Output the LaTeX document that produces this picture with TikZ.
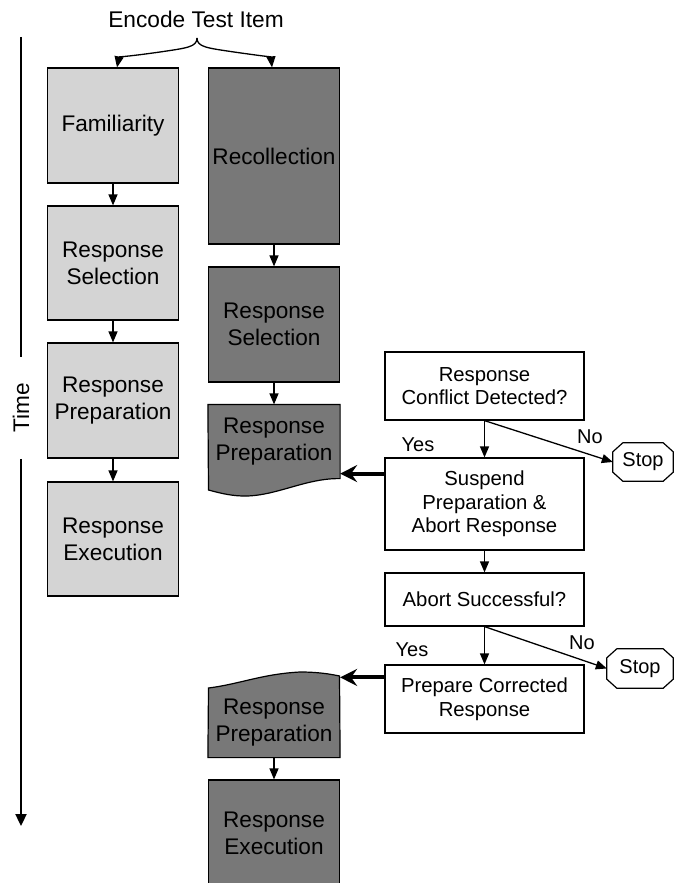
\documentclass[tikz,border=0pt]{standalone}
\usepackage{fontspec}
\setmainfont{Liberation Sans}
\usepackage{xcolor}
\usetikzlibrary{arrows.meta,backgrounds}
\definecolor{lightbox}{gray}{0.83}
\definecolor{darkbox}{gray}{0.47}

\begin{document}
\begin{tikzpicture}[x=1pt,y=-1pt,>={Triangle[length=11pt,width=9pt]},
    stage/.style={draw,line width=1.2pt,minimum width=131pt,inner sep=0pt,align=center,
        font=\fontsize{22.6}{27}\selectfont},
    fambox/.style={stage,fill=lightbox},
    recbox/.style={stage,fill=darkbox},
    check/.style={draw,line width=1.2pt,fill=white,minimum width=199pt,inner sep=0pt,
        align=center,font=\fontsize{20.3}{23.5}\selectfont},
    stopbox/.style={inner sep=0pt,font=\fontsize{20}{24}\selectfont},
    small/.style={font=\fontsize{20}{24}\selectfont},
    link/.style={->,line width=1.3pt},
    bigarrow/.style={-{Stealth[length=17pt,width=17pt,inset=6pt]},line width=4pt}]
\useasboundingbox (0,0) rectangle (674,883);

% time axis
\node[rotate=90,inner ysep=0pt,inner xsep=26pt,font=\fontsize{22.6}{27}\selectfont]
    (time) at (21,408) {Time};
\coordinate (tTop) at (21,37);
\coordinate (tEnd) at (21,826);
\draw[line width=2.3pt] (tTop) -- (time.east);
\draw[line width=2.3pt,-{Triangle[length=12pt,width=11pt]}] (time.west) -- (tEnd);

% encoding
\node[font=\fontsize{22.7}{27}\selectfont] (enc) at (196,19) {Encode Test Item};
\coordinate (fork) at (197,38);

% familiarity column
\node[fambox,minimum height=115pt] (famil) at (113,125.5) {Familiarity};
\node[fambox,minimum height=114pt] (selL) at (113,263) {Response\\Selection};
\node[fambox,minimum height=115pt] (prepL) at (113,400.5) {Response\\Preparation};
\node[fambox,minimum height=114pt] (execL) at (113,539) {Response\\Execution};

% recollection column
\node[recbox,minimum height=176pt] (recol) at (274,156) {Recollection};
\node[recbox,minimum height=115pt] (selR) at (274,324.5) {Response\\Selection};
\node[stage,draw=none,minimum height=73pt] (prepR1) at (274,441.5) {Response\\Preparation};
\node[stage,draw=none,minimum height=69pt] (prepR2) at (274,722.5) {Response\\Preparation};
\node[recbox,minimum height=106pt] (execR) at (274,833) {Response\\Execution};

\begin{scope}[on background layer]
    \filldraw[fill=darkbox,line width=1.2pt] (prepR1.north west) -- (prepR1.north east)
        -- (prepR1.south east) .. controls (305,478) and (275,497) .. (242,496)
        .. controls (228,495.5) and (216,492) .. (208.5,490) -- cycle;
    \filldraw[fill=darkbox,line width=1.2pt] (prepR2.south west) -- (208.5,688)
        .. controls (240,684) and (262,674) .. (300,672)
        .. controls (318,672) and (330,674) .. (339.5,676) -- (prepR2.south east) -- cycle;
\end{scope}

% conflict monitoring
\node[check,minimum height=68pt] (conflict) at (484.5,386) {Response\\Conflict Detected?};
\node[check,minimum height=92pt] (suspend) at (484.5,504) {Suspend\\Preparation \&\\Abort Response};
\node[check,minimum height=53pt] (abort) at (484.5,599.5) {Abort Successful?};
\node[check,minimum height=68pt] (correct) at (484.5,699) {Prepare Corrected\\Response};
\node[stopbox,minimum width=60pt,minimum height=38pt] (stopA) at (643,462) {Stop};
\node[stopbox,minimum width=66pt,minimum height=39pt] (stopB) at (640,668.5) {Stop};
\foreach \s in {stopA,stopB}
    \draw[line width=1.2pt] ([xshift=10pt]\s.north west) -- ([xshift=-10pt]\s.north east)
        -- ([yshift=-9pt]\s.north east) -- ([yshift=9pt]\s.south east)
        -- ([xshift=-10pt]\s.south east) -- ([xshift=10pt]\s.south west)
        -- ([yshift=9pt]\s.south west) -- ([yshift=-9pt]\s.north west) -- cycle;

\node[small] (yesA) at (418,445) {Yes};
\node[small] (noA) at (590,437) {No};
\node[small] (yesB) at (412,650) {Yes};
\node[small] (noB) at (582,643) {No};

% connectors
\draw[link] (fork) .. controls (197,47) and (187,48) .. (160,52)
    .. controls (132,56) and (119,57) .. ([xshift=4pt]famil.north);
\draw[link] (fork) .. controls (197,47) and (207,48) .. (234,52)
    .. controls (262,56) and (271,57) .. ([xshift=-2pt]recol.north);
\draw[link] (famil) -- (selL);
\draw[link] (selL) -- (prepL);
\draw[link] (prepL) -- (execL);
\draw[link] (recol) -- (selR);
\draw[link] (selR) -- (prepR1);
\draw[link] (prepR2) -- (execR);
\draw[link] (conflict.south) -- (suspend.north);
\draw[link] (conflict.south) -- (stopA.west);
\draw[link] (suspend) -- (abort);
\draw[link] (abort.south) -- (correct.north);
\draw[link] (abort.south) -- (stopB.west);
\coordinate (inA) at ([yshift=5pt]prepR1.south east);
\draw[bigarrow] (suspend.west |- inA) -- (inA);
\coordinate (inB) at ([yshift=10pt]prepR2.north east);
\draw[bigarrow] (correct.west |- inB) -- (inB);
\end{tikzpicture}
\end{document}
